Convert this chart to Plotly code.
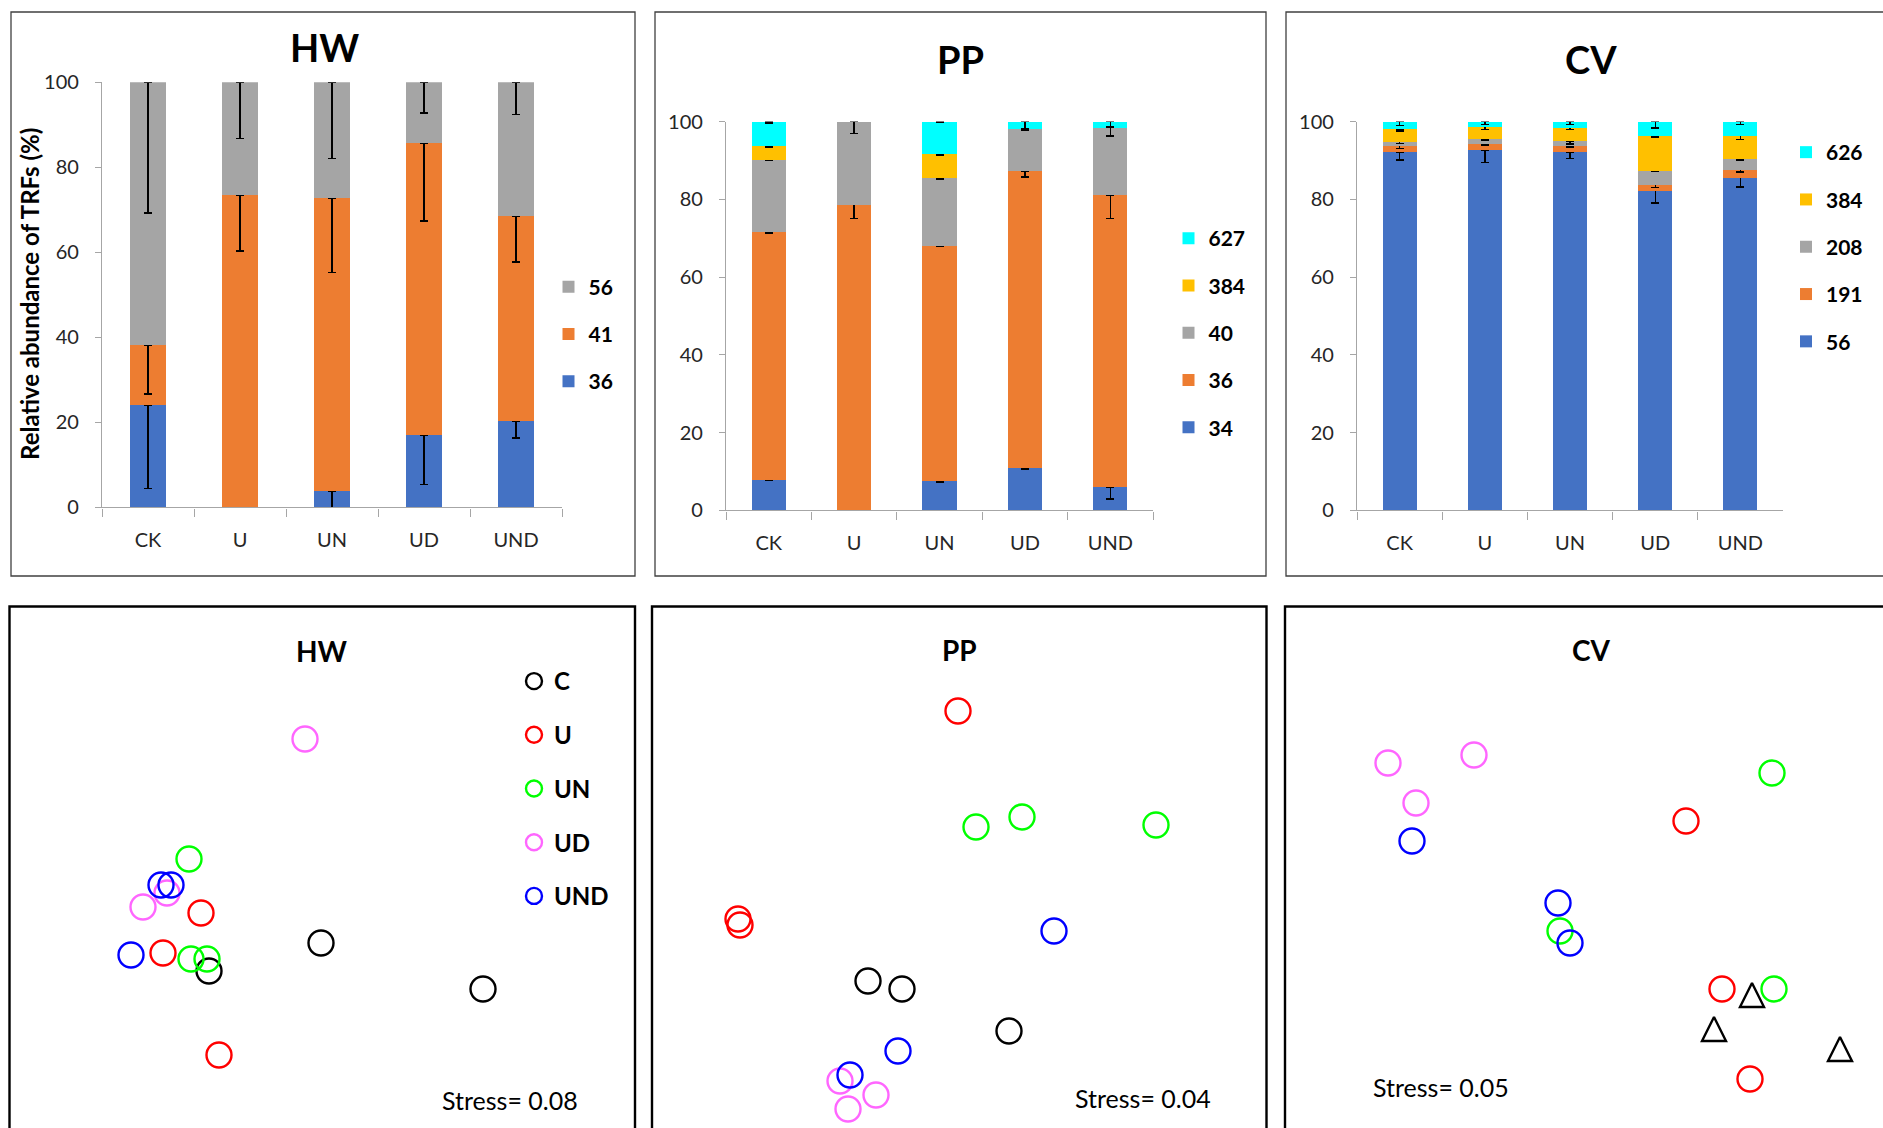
import plotly.graph_objects as go

W, H = 1883, 1128
FONT = "Lato"

categories = ["CK", "U", "UN", "UD", "UND"]

# ---------------- HW stacked bars (TRF relative abundance, %) ----------------
hw_names = ["36", "41", "56"]
hw_36 = [24.1, 0, 3.9, 17.0, 20.3]
hw_41 = [14.0, 73.5, 68.9, 68.6, 48.2]
hw_56 = [61.9, 26.5, 27.2, 14.4, 31.5]
hw_36_err = [19.7, 0, 3.9, 11.6, 4.0]
hw_41_err = [11.4, 13.2, 17.6, 18.2, 10.8]
hw_56_err = [30.8, 13.2, 18.0, 7.2, 7.6]

# ---------------- PP stacked bars ----------------
pp_names = ["34", "36", "40", "384", "627"]
pp_34 = [7.9, 0, 7.6, 10.8, 6.0]
pp_36 = [63.8, 78.6, 60.5, 76.5, 75.1]
pp_40 = [18.5, 21.4, 17.4, 10.7, 17.3]
pp_384 = [3.5, 0, 6.1, 0, 0]
pp_627 = [6.3, 0, 8.4, 2.0, 1.6]
pp_34_err = [0.2, 0, 0.3, 0.2, 3.1]
pp_36_err = [0.4, 3.5, 0.3, 1.6, 6.1]
pp_40_err = [0.3, 3.1, 0.3, 0.3, 2.1]
pp_384_err = [0.4, 0, 0.3, 0, 0]
pp_627_err = [0.4, 0, 0.3, 1.9, 1.4]

# ---------------- CV stacked bars ----------------
cv_names = ["56", "191", "208", "384", "626"]
cv_56 = [92.2, 92.6, 92.2, 82.2, 85.6]
cv_191 = [1.6, 1.7, 1.5, 1.6, 2.0]
cv_208 = [1.0, 1.1, 1.3, 3.5, 2.7]
cv_384 = [3.2, 3.3, 3.4, 9.1, 6.1]
cv_626 = [2.0, 1.3, 1.6, 3.6, 3.6]
cv_56_err = [2.1, 3.2, 1.7, 3.2, 2.4]
cv_191_err = [0.8, 0.3, 0.3, 0.8, 0.6]
cv_208_err = [0.5, 0.3, 0.8, 0.2, 0.2]
cv_384_err = [0.4, 0.7, 0.4, 0.4, 1.1]
cv_626_err = [1.1, 0.8, 0.8, 1.7, 0.8]

bar_colors = ["#4472C4", "#ED7D31", "#A5A5A5", "#FFC000", "#00FFFF"]

# ---------------- NMDS ordinations (arbitrary NMDS units) ----------------
groups = ["C", "U", "UN", "UD", "UND"]
group_colors = ["#000000", "#FF0000", "#00FF00", "#FF66FF", "#0000FF"]

hw_nmds1 = {"C": [-0.01, -0.57, 0.80], "U": [-0.61, -0.80, -0.52], "UN": [-0.67, -0.66, -0.58],
            "UD": [-0.09, -0.78, -0.90], "UND": [-0.81, -0.76, -0.96]}
hw_nmds2 = {"C": [-0.38, -0.52, -0.61], "U": [-0.23, -0.43, -0.94], "UN": [0.04, -0.46, -0.46],
            "UD": [0.64, -0.13, -0.20], "UND": [-0.09, -0.09, -0.44]}

pp_nmds1 = {"C": [-0.46, -0.29, 0.245], "U": [-0.01, -1.11, -1.10], "UN": [0.08, 0.31, 0.98],
            "UD": [-0.60, -0.42, -0.56], "UND": [0.47, -0.31, -0.55]}
pp_nmds2 = {"C": [-0.57, -0.61, -0.82], "U": [0.78, -0.26, -0.29], "UN": [0.20, 0.25, 0.21],
            "UD": [-1.07, -1.14, -1.21], "UND": [-0.32, -0.92, -1.04]}

# C samples in CV are drawn as triangles (anchored at their apex)
cv_nmds1 = {"C": [0.84, 0.65, 1.28], "U": [0.51, 0.69, 0.83], "UN": [0.94, -0.12, 0.95],
            "UD": [-0.98, -0.55, -0.84], "UND": [-0.86, -0.13, -0.07]}
cv_nmds2 = {"C": [-0.58, -0.75, -0.85], "U": [0.23, -0.61, -1.06], "UN": [0.47, -0.32, -0.61],
            "UD": [0.52, 0.56, 0.32], "UND": [0.13, -0.18, -0.38]}

stress_values = ["0.08", "0.04", "0.05"]


def px(x):
    return x / W


def py(y):
    return 1 - y / H


fig = go.Figure()

# ---- bar panels ----
bar_panels = [
    ("x", "y", "legend", hw_names, [hw_36, hw_41, hw_56], [hw_36_err, hw_41_err, hw_56_err],
     [bar_colors[0], bar_colors[1], bar_colors[2]]),
    ("x2", "y2", "legend2", pp_names, [pp_34, pp_36, pp_40, pp_384, pp_627],
     [pp_34_err, pp_36_err, pp_40_err, pp_384_err, pp_627_err], bar_colors),
    ("x3", "y3", "legend3", cv_names, [cv_56, cv_191, cv_208, cv_384, cv_626],
     [cv_56_err, cv_191_err, cv_208_err, cv_384_err, cv_626_err], bar_colors),
]
for xa, ya, lg, names, series, errs, cols in bar_panels:
    n = len(names)
    for i, (name, vals, err, col) in enumerate(zip(names, series, errs, cols)):
        yv = [v if v > 0 else None for v in vals]
        fig.add_trace(go.Bar(
            x=categories, y=yv, name=name, xaxis=xa, yaxis=ya, legend=lg,
            legendgroup=lg + name, legendrank=100 + (n - i),
            marker=dict(color=col, line=dict(width=0)),
            error_y=dict(type="data", symmetric=False, array=[0] * len(err), arrayminus=err,
                         color="#000000", thickness=1.4, width=4),
        ))

# ---- NMDS panels ----
nmds_panels = [("x4", "y4", hw_nmds1, hw_nmds2, True),
               ("x5", "y5", pp_nmds1, pp_nmds2, False),
               ("x6", "y6", cv_nmds1, cv_nmds2, False)]
for xa, ya, d1, d2, show in nmds_panels:
    for g, c in zip(groups, group_colors):
        tri = (xa == "x6" and g == "C")
        fig.add_trace(go.Scatter(
            x=d1[g], y=d2[g], mode="markers", name=g, xaxis=xa, yaxis=ya,
            legend="legend4", legendgroup="n" + g, showlegend=show,
            marker=dict(symbol="arrow-up-open" if tri else "circle-open", size=24 if tri else 25,
                        color=c, line=dict(width=2.4, color=c)),
        ))

axis_grey = "#A6A6A6"
tickfont = dict(family=FONT, size=20, color="#262626")


def bar_axes(xdom, ydom):
    xa = dict(domain=xdom, showline=True, linecolor=axis_grey, linewidth=1.2, ticks="outside",
              tickson="boundaries", ticklen=8, tickcolor=axis_grey, tickwidth=1.2,
              tickfont=tickfont, showgrid=False, zeroline=False, fixedrange=True,
              ticklabelstandoff=14, automargin=False)
    ya = dict(domain=ydom, range=[0, 100], dtick=20, showline=True, linecolor=axis_grey,
              linewidth=1.2, ticks="outside", ticklen=6, tickcolor=axis_grey, tickwidth=1.2,
              tickfont=tickfont, showgrid=False, zeroline=False, fixedrange=True,
              ticklabelstandoff=12, automargin=False)
    return xa, ya


x1, y1 = bar_axes([px(102), px(562)], [py(507.4), py(82.2)])
x2, y2 = bar_axes([px(726), px(1153)], [py(510.4), py(121.5)])
x3, y3 = bar_axes([px(1357), px(1783)], [py(510.4), py(121.5)])
x1["anchor"] = "y"; y1["anchor"] = "x"
x2["anchor"] = "y2"; y2["anchor"] = "x2"
x3["anchor"] = "y3"; y3["anchor"] = "x3"

S = 200.0  # px per NMDS unit


def nmds_axes(x0, x1_, y0, y1_, anchor_x, anchor_y):
    cx = (x0 + x1_) / 2
    cy = (y0 + y1_) / 2
    xa = dict(domain=[px(x0), px(x1_)], range=[(x0 - cx) / S, (x1_ - cx) / S], visible=False,
              fixedrange=True, anchor=anchor_y)
    ya = dict(domain=[py(y1_), py(y0)], range=[(cy - y1_) / S, (cy - y0) / S], visible=False,
              fixedrange=True, anchor=anchor_x)
    return xa, ya


x4, y4 = nmds_axes(11, 635, 606, 1128, "x4", "y4")
x5, y5 = nmds_axes(654, 1266, 606, 1128, "x5", "y5")
x6, y6 = nmds_axes(1285, 1883, 606, 1128, "x6", "y6")

legfont = dict(family=FONT, size=21, color="#000000", weight="bold")


def bar_legend(xl, ytop):
    return dict(x=px(xl), y=py(ytop), xanchor="left", yanchor="top", font=legfont,
                traceorder="grouped", tracegroupgap=17, itemwidth=30,
                bgcolor="rgba(0,0,0,0)", borderwidth=0)


shapes = []
for (a, b, c, d) in [(11, 12, 635, 576), (655, 12, 1266, 576), (1286, 12, 1910, 576)]:
    shapes.append(dict(type="rect", xref="paper", yref="paper", x0=px(a), x1=px(c), y0=py(d), y1=py(b),
                       line=dict(color="#404040", width=1.3), fillcolor="rgba(0,0,0,0)", layer="below"))
for (a, b, c, d) in [(9.5, 606.5, 635, 1140), (652, 606.5, 1266.5, 1140), (1285, 606.5, 1910, 1140)]:
    shapes.append(dict(type="rect", xref="paper", yref="paper", x0=px(a), x1=px(c), y0=py(d), y1=py(b),
                       line=dict(color="#000000", width=2.4), fillcolor="rgba(0,0,0,0)", layer="below"))

ann = []
for t, xc, yc in [("HW", 324, 47), ("PP", 960, 59), ("CV", 1591, 59)]:
    ann.append(dict(text=t, x=px(xc), y=py(yc), xref="paper", yref="paper", showarrow=False,
                    xanchor="center", yanchor="middle",
                    font=dict(family=FONT, size=38, color="#000000", weight="bold")))
for t, xc, yc in [("HW", 322, 651), ("PP", 959, 650), ("CV", 1591, 650)]:
    ann.append(dict(text=t, x=px(xc), y=py(yc), xref="paper", yref="paper", showarrow=False,
                    xanchor="center", yanchor="middle",
                    font=dict(family=FONT, size=28, color="#000000", weight="bold")))
ann.append(dict(text="Relative abundance of TRFs (%)", x=px(29), y=py(294), xref="paper", yref="paper",
                showarrow=False, textangle=-90, xanchor="center", yanchor="middle",
                font=dict(family=FONT, size=24, color="#000000", weight="bold")))
for sv, xl, yc in zip(stress_values, [440, 1073, 1371], [1100, 1098, 1087]):
    ann.append(dict(text="Stress= " + sv, x=px(xl), y=py(yc), xref="paper", yref="paper",
                    showarrow=False, xanchor="left", yanchor="middle",
                    font=dict(family=FONT, size=25, color="#000000")))

fig.update_layout(
    width=W, height=H, autosize=False,
    margin=dict(l=0, r=0, t=0, b=0, pad=0, autoexpand=False),
    paper_bgcolor="white", plot_bgcolor="rgba(0,0,0,0)",
    barmode="stack", bargap=0.6,
    showlegend=True,
    xaxis=x1, yaxis=y1, xaxis2=x2, yaxis2=y2, xaxis3=x3, yaxis3=y3,
    xaxis4=x4, yaxis4=y4, xaxis5=x5, yaxis5=y5, xaxis6=x6, yaxis6=y6,
    legend=bar_legend(548.5, 266.5),
    legend2=bar_legend(1168.5, 218),
    legend3=bar_legend(1786, 132),
    legend4=dict(x=px(514), y=py(659), xanchor="left", yanchor="top",
                 font=dict(family=FONT, size=24, color="#000000", weight="bold"),
                 traceorder="grouped", tracegroupgap=19.5, itemwidth=30,
                 bgcolor="rgba(0,0,0,0)", borderwidth=0),
    shapes=shapes, annotations=ann,
    font=dict(family=FONT),
)

fig.write_html("out.html", config={"displayModeBar": False},
               post_script="document.body.style.margin='0';document.body.style.overflow='hidden';")
